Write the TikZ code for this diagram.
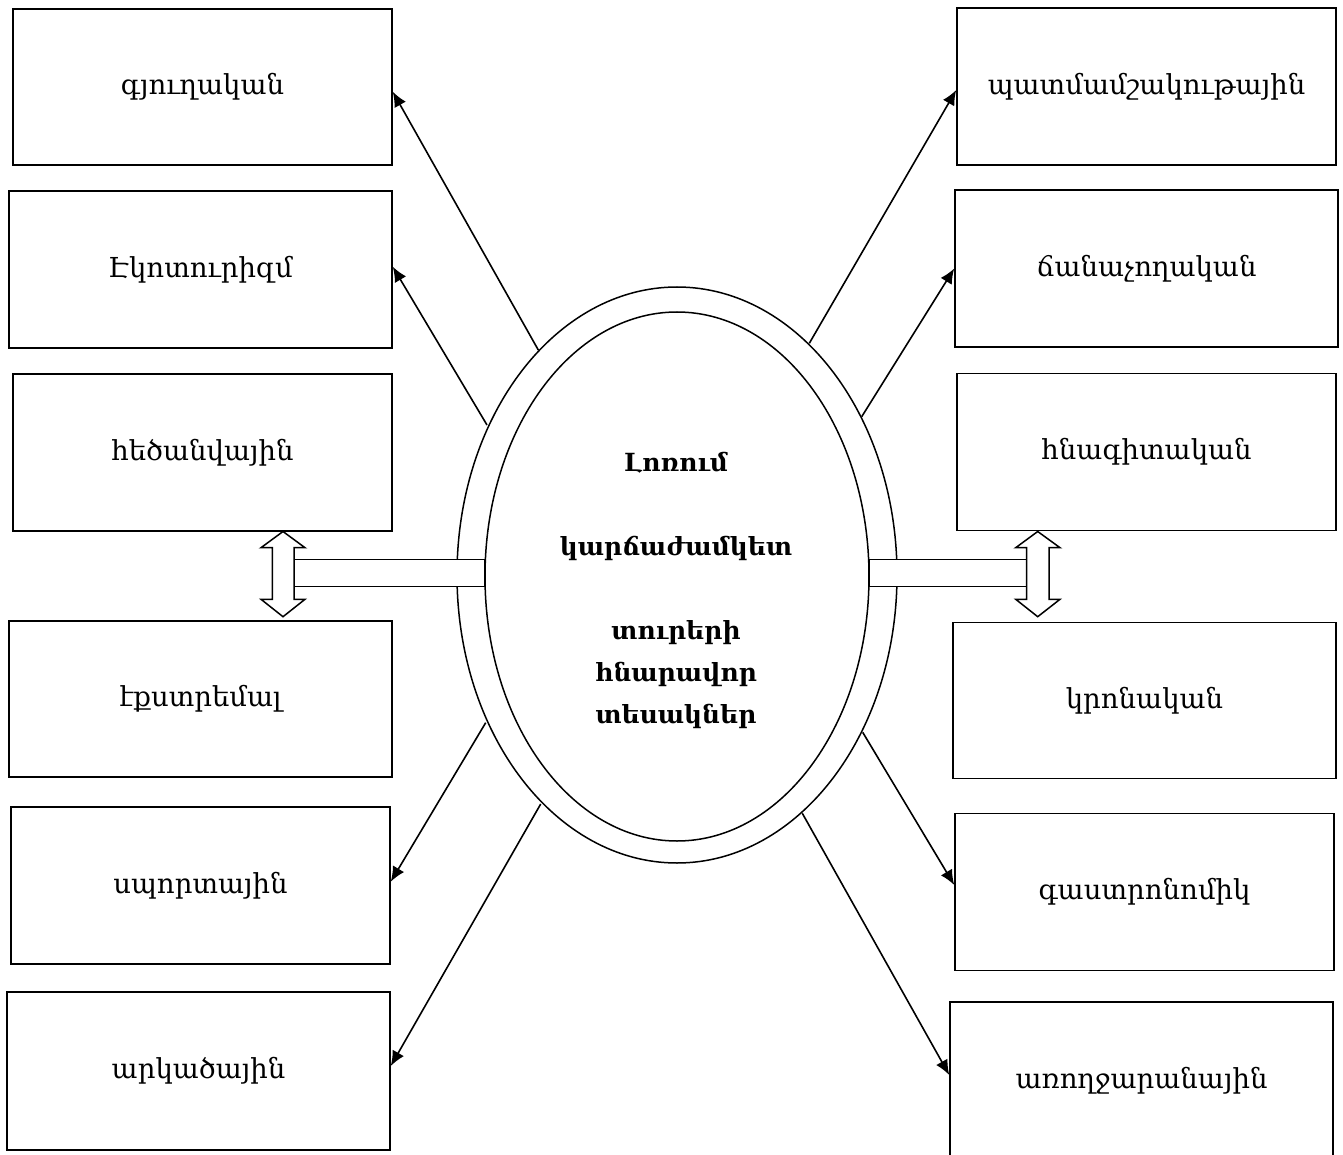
\documentclass[tikz,border=0pt]{standalone}
\usepackage{fontspec}
\setmainfont{DejaVu Serif}
\usetikzlibrary{shapes.geometric,arrows.meta}
\begin{document}
\begin{tikzpicture}[x=1pt,y=-1pt,line width=1.5pt,
  box/.style={draw,rectangle,minimum height=157pt,inner sep=0pt,font=\fontsize{27.5}{32}\selectfont},
  ring/.style={draw,ellipse,inner sep=0pt},
  link/.style={line width=1.6pt,-{Latex[length=15pt,width=13pt]}},
  barbox/.style={draw,fill=white},
  dbl/.style={draw,fill=white,line join=miter}]
\useasboundingbox (0,0) rectangle (1343,1155);
% boxes left
\node[box,minimum width=379pt,minimum height=156pt] (L1) at (202.5,87) {գյուղական};
\node[box,minimum width=383pt] (L2) at (200.5,269.5) {Էկոտուրիզմ};
\node[box,minimum width=379pt] (L3) at (202.5,452.5) {հեծանվային};
\node[box,minimum width=383pt,minimum height=156pt] (L4) at (200.5,699) {էքստրեմալ};
\node[box,minimum width=379pt] (L5) at (200.5,885.5) {սպորտային};
\node[box,minimum width=383pt,minimum height=158pt] (L6) at (198.5,1071) {արկածային};
% boxes right
\node[box,minimum width=379pt] (R1) at (1146.5,86.5) {պատմամշակութային};
\node[box,minimum width=383pt] (R2) at (1146.5,268.5) {ճանաչողական};
\node[box,minimum width=379pt] (R3) at (1146.5,452) {հնագիտական};
\node[box,minimum width=383pt,minimum height=156pt] (R4) at (1144.5,700.5) {կրոնական};
\node[box,minimum width=379pt] (R5) at (1144.5,892) {գաստրոնոմիկ};
\node[box,minimum width=383pt] (R6) at (1141.5,1080.5) {առողջարանային};
% ellipses
\node[ring,minimum width=440pt,minimum height=576pt] (outer) at (677,575) {};
\path[barbox] (294,559.3) rectangle (485,586.7);
\path[barbox] (869,559.3) rectangle (1026.7,586.7);
\node[ring,minimum width=384pt,minimum height=529pt] (inner) at (677,576.5) {};
\node[align=center,font=\fontsize{25}{42}\selectfont\bfseries] (title) at (676,590.5)
  {Լոռում\\[42pt]կարճաժամկետ\\[42pt]տուրերի\\հնարավոր\\տեսակներ};
% double arrows
\path[dbl] (283,531.5) -- (305,547.7) -- (294,547.7) -- (294,599.3) -- (305,599.3) -- (283,616.7)
  -- (261,599.3) -- (272.3,599.3) -- (272.3,547.7) -- (261,547.7) -- cycle;
\path[dbl] (1037.7,531.5) -- (1060,547.7) -- (1049,547.7) -- (1049,599.3) -- (1060,599.3) -- (1037.7,616.7)
  -- (1015.7,599.3) -- (1026.7,599.3) -- (1026.7,547.7) -- (1015.7,547.7) -- cycle;
% start points on outer ellipse
\coordinate (s1) at (538.3,350);
\coordinate (s2) at (487,425);
\coordinate (s3) at (485.7,722.7);
\coordinate (s4) at (540.7,804);
\coordinate (s5) at (809.3,343.3);
\coordinate (s6) at (861.7,416.7);
\coordinate (s7) at (862.7,732.3);
\coordinate (s8) at (802.3,813.3);
\draw[link] (s1) -- ([yshift=-4.7pt]L1.east);
\draw[link] (s2) -- ([yshift=2.8pt]L2.east);
\draw[link] (s3) -- ([yshift=3.8pt]L5.east);
\draw[link] (s4) -- ([yshift=5pt]L6.east);
\draw[link] (s5) -- ([yshift=-3.5pt]R1.west);
\draw[link] (s6) -- (R2.west);
\draw[link] (s7) -- ([yshift=7pt]R5.west);
\draw[link] (s8) -- ([yshift=5.5pt]R6.west);
\end{tikzpicture}
\end{document}
